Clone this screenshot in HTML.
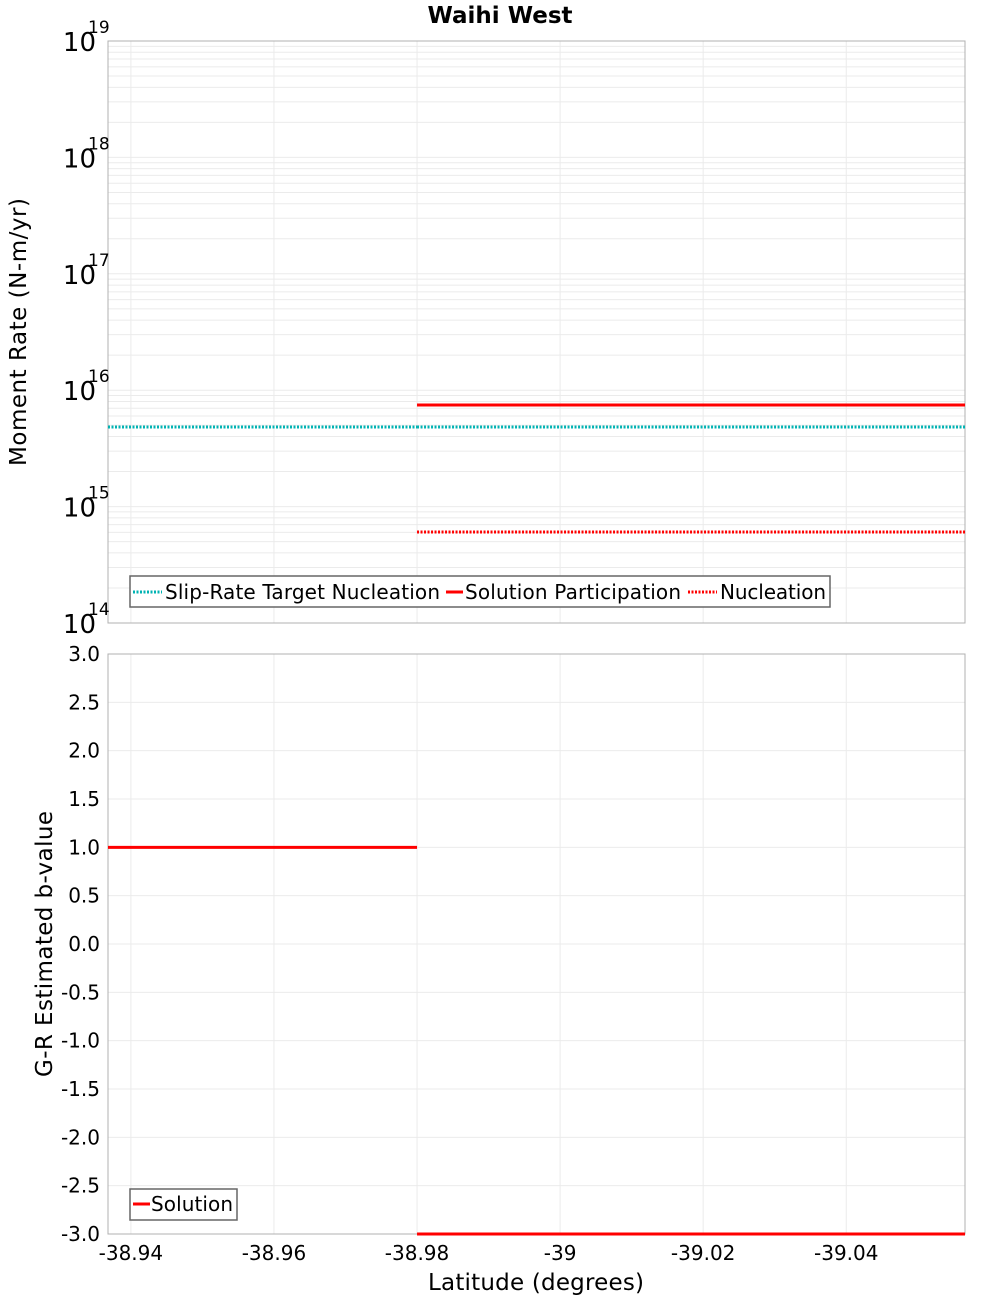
<!DOCTYPE html>
<html><head><meta charset="utf-8"><style>
html,body{margin:0;padding:0;background:#fff;}
svg{display:block;font-family:"DejaVu Sans","Liberation Sans",sans-serif;}
</style></head><body>
<svg id="chart" width="1000" height="1300" xmlns="http://www.w3.org/2000/svg">
<text x="500" y="23" text-anchor="middle" font-size="23" font-weight="bold">Waihi West</text>
<text transform="translate(26,332) rotate(-90)" text-anchor="middle" font-size="23" textLength="268">Moment Rate (N-m/yr)</text>
<text transform="translate(52,944) rotate(-90)" text-anchor="middle" font-size="23" textLength="266">G-R Estimated b-value</text>
<text x="536" y="1290" text-anchor="middle" font-size="23" textLength="216">Latitude (degrees)</text>
<g id="g"></g>
</svg>
<script>
const xTicks = [-38.94, -38.96, -38.98, -39, -39.02, -39.04];
const xTickLabels = ["-38.94", "-38.96", "-38.98", "-39", "-39.02", "-39.04"];
const xBreaks = [-38.9368, -38.98, -39.0566];
const slipTarget = [4.83e15, 4.83e15];
const solutionParticipation = [null, 7.46e15];
const nucleation = [null, 6.05e14];
const bValues = [1.0, -3.0];
const bTicks = [3.0, 2.5, 2.0, 1.5, 1.0, 0.5, 0.0, -0.5, -1.0, -1.5, -2.0, -2.5, -3.0];

const NS = "http://www.w3.org/2000/svg";
const g = document.getElementById("g");
const L = 108, R = 965, T1 = 41, B1 = 623, T2 = 654, B2 = 1234;
const xMin = -38.9368, xMax = -39.0566;
const xs = v => L + (v - xMin) / (xMax - xMin) * (R - L);
const yLog = v => T1 + (19 - Math.log10(v)) / 5 * (B1 - T1);
const yB = v => T2 + (3 - v) / 6 * (B2 - T2);
function el(tag, attrs, name, text) {
  const e = document.createElementNS(NS, tag);
  for (const k in attrs) e.setAttribute(k, attrs[k]);
  
  
  if (text !== undefined) e.textContent = text;
  g.appendChild(e);
  return e;
}
for (let d = 14; d < 19; d++) for (let m = 1; m < 10; m++) {
  const y = yLog(m * Math.pow(10, d));
  el('line', {x1: L, x2: R, y1: y, y2: y, stroke: '#ebebeb', 'stroke-width': 1}, 'top-grid-line');
}
bTicks.forEach(v => el('line', {x1: L, x2: R, y1: yB(v), y2: yB(v), stroke: '#ebebeb'}, 'bottom-grid-line'));
xTicks.forEach(v => {
  el('line', {x1: xs(v), x2: xs(v), y1: T1, y2: B1, stroke: '#ebebeb'}, 'top-x-grid-line');
  el('line', {x1: xs(v), x2: xs(v), y1: T2, y2: B2, stroke: '#ebebeb'}, 'bottom-x-grid-line');
});
el('rect', {x: L, y: T1, width: R - L, height: B1 - T1, fill: 'none', stroke: '#b0b0b0'}, 'top-plot-frame');
el('rect', {x: L, y: T2, width: R - L, height: B2 - T2, fill: 'none', stroke: '#b0b0b0'}, 'bottom-plot-frame');
for (let d = 14; d <= 19; d++) {
  const y = yLog(Math.pow(10, d));
  el('text', {x: 96, y: y + 10, 'text-anchor': 'end', 'font-size': 26}, 'y-tick-label-base', '10');
  el('text', {x: 88, y: y - 8, 'font-size': 17}, 'y-tick-label-exponent', String(d));
}
bTicks.forEach(v => el('text', {x: 100, y: yB(v) + 7, 'text-anchor': 'end', 'font-size': 20}, 'b-tick-label', v.toFixed(1)));
xTicks.forEach((v, i) => el('text', {x: xs(v), y: 1260, 'text-anchor': 'middle', 'font-size': 20}, 'x-tick-label', xTickLabels[i]));
function steps(vals, yf, name, attrs) {
  for (let i = 0; i < vals.length; i++) {
    if (vals[i] === null) continue;
    const y = yf(vals[i]);
    const a = Object.assign({x1: xs(xBreaks[i]), x2: xs(xBreaks[i + 1]), y1: y, y2: y}, attrs);
    el('line', a, name);
  }
}
steps(slipTarget, yLog, 'slip-rate-target-line', {stroke: '#00b3b3', 'stroke-width': 3, 'stroke-dasharray': '2,1.5'});
steps(solutionParticipation, yLog, 'solution-participation-line', {stroke: '#ff0000', 'stroke-width': 3});
steps(nucleation, yLog, 'nucleation-line', {stroke: '#ff0000', 'stroke-width': 3, 'stroke-dasharray': '2,1.5'});
for (let i = 0; i < bValues.length; i++) {
  const y = yB(bValues[i]);
  el('line', {x1: xs(xBreaks[i]), x2: xs(xBreaks[i + 1]), y1: y, y2: y, stroke: '#ff0000', 'stroke-width': 3}, 'solution-b-line');
}
el('rect', {x: 130, y: 576, width: 700, height: 31, fill: '#fff', stroke: '#666', 'stroke-width': 1.5}, 'top-legend');
el('line', {x1: 133, x2: 162, y1: 592, y2: 592, stroke: '#00b3b3', 'stroke-width': 3, 'stroke-dasharray': '2,1.5'}, 'legend-slip-rate-swatch');
el('text', {x: 165, y: 599, 'font-size': 20, textLength: 275}, 'legend-slip-rate-label', 'Slip-Rate Target Nucleation');
el('line', {x1: 446, x2: 463, y1: 592, y2: 592, stroke: '#ff0000', 'stroke-width': 3}, 'legend-solution-swatch');
el('text', {x: 465, y: 599, 'font-size': 20, textLength: 216}, 'legend-solution-label', 'Solution Participation');
el('line', {x1: 688, x2: 717, y1: 592, y2: 592, stroke: '#ff0000', 'stroke-width': 3, 'stroke-dasharray': '2,1.5'}, 'legend-nucleation-swatch');
el('text', {x: 720, y: 599, 'font-size': 20, textLength: 106}, 'legend-nucleation-label', 'Nucleation');
el('rect', {x: 130, y: 1189, width: 107, height: 31, fill: '#fff', stroke: '#666', 'stroke-width': 1.5}, 'bottom-legend');
el('line', {x1: 133, x2: 150, y1: 1204, y2: 1204, stroke: '#ff0000', 'stroke-width': 3}, 'legend-b-solution-swatch');
el('text', {x: 151, y: 1211, 'font-size': 20, textLength: 82}, 'legend-b-solution-label', 'Solution');
</script>
</body></html>
